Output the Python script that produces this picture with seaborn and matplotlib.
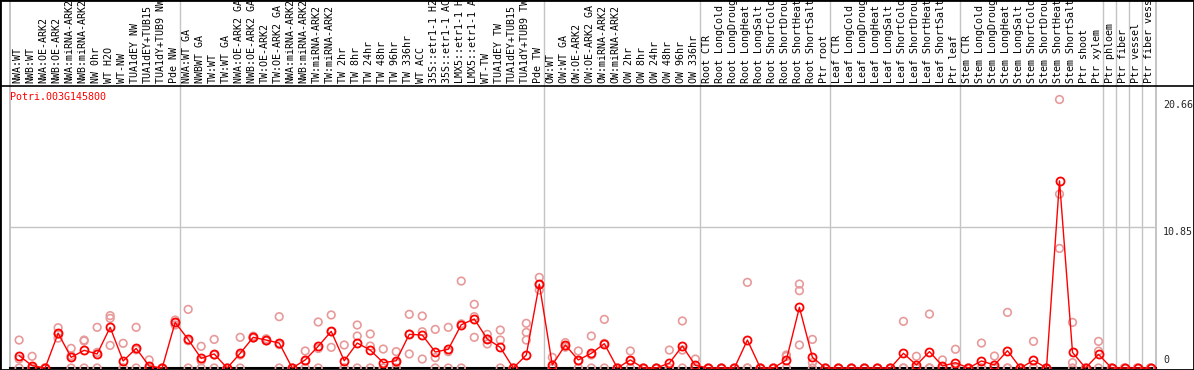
import numpy as np
import matplotlib
matplotlib.use("Agg")
import matplotlib.pyplot as plt
import matplotlib.transforms as mtransforms
from matplotlib.lines import Line2D
from matplotlib.patches import Rectangle
import seaborn as sns

# ---------------- data ----------------
labels = [
    "NWA:WT", "NWB:WT", "NWA:OE-ARK2", "NWB:OE-ARK2", "NWA:miRNA-ARK2", "NWB:miRNA-ARK2",
    "NW 0hr", "WT H2O", "WT-NW", "TUA1dEY NW", "TUA1dEY+TUB15", "TUA1dY+TUB9 NW", "Pde NW",
    "NWA:WT GA", "NWBWT GA", "TW:WT", "TW:WT GA", "NWA:OE-ARK2 GA", "NWB:OE-ARK2 GA",
    "TW:OE-ARK2", "TW:OE-ARK2 GA", "NWA:miRNA-ARK2", "NWB:miRNA-ARK2", "TW:miRNA-ARK2",
    "TW:miRNA-ARK2", "TW 2hr", "TW 8hr", "TW 24hr", "TW 48hr", "TW 96hr", "TW 336hr",
    "WT ACC", "35S::etr1-1 H2", "35S::etr1-1 AC", "LMX5::etr1-1 H", "LMX5::etr1-1 A",
    "WT-TW", "TUA1dEY TW", "TUA1dEY+TUB15", "TUA1dY+TUB9 TW", "Pde TW",
    "OW:WT", "OW:WT GA", "OW:OE-ARK2", "OW:OE-ARK2 GA", "OW:miRNA-ARK2", "OW:miRNA-ARK2",
    "OW 2hr", "OW 8hr", "OW 24hr", "OW 48hr", "OW 96hr", "OW 336hr",
    "Root CTR", "Root LongCold", "Root LongDroug", "Root LongHeat", "Root LongSalt",
    "Root ShortCold", "Root ShortDrou", "Root ShortHeat", "Root ShortSalt", "Ptr root",
    "Leaf CTR", "Leaf LongCold", "Leaf LongDroug", "Leaf LongHeat", "Leaf LongSalt",
    "Leaf ShortCold", "Leaf ShortDrou", "Leaf ShortHeat", "Leaf ShortSalt", "Ptr leaf",
    "Stem CTR", "Stem LongCold", "Stem LongDroug", "Stem LongHeat", "Stem LongSalt",
    "Stem ShortCold", "Stem ShortDrou", "Stem ShortHeat", "Stem ShortSalt", "Ptr shoot",
    "Ptr xylem", "Ptr phloem", "Ptr fiber", "Ptr vessel", "Ptr fiber vess",
]

mean_expr = [
    0.95, 0.18, 0.0, 2.67, 0.82, 1.36, 1.08, 3.13, 0.54, 1.51, 0.15, 0.0, 3.51,
    2.2, 0.74, 1.08, 0.0, 1.13, 2.36, 2.15, 1.92, 0.0, 0.62, 1.67, 2.82, 0.56, 1.92,
    1.38, 0.41, 0.56, 2.59, 2.54, 1.23, 1.44, 3.33, 3.77, 2.23, 1.59, 0.0, 1.0, 6.46,
    0.23, 1.77, 0.62, 1.13, 1.87, 0.0, 0.62, 0.0, 0.0, 0.38, 1.69, 0.2,
    0.0, 0.0, 0.0, 2.15, 0.0, 0.0, 0.62, 4.67, 0.82, 0.0,
    0.0, 0.0, 0.0, 0.0, 0.0, 1.13, 0.23, 1.26, 0.15, 0.41,
    0.0, 0.54, 0.23, 1.33, 0.0, 0.59, 0.0, 14.4, 1.2, 0.0, 1.05,
    0.0, 0.0, 0.0, 0.0,
]

rep_a = [
    2.15, 0.9, 0.0, 3.1, 1.51, 2.15, 3.13, 4.03, 1.9, 3.13, 0.62, 0.0, 3.69,
    4.51, 1.67, 2.2, 0.0, 2.36, 2.45, 2.25, 3.95, 0.0, 1.31, 3.54, 4.08, 1.77, 3.31,
    2.62, 1.46, 1.26, 4.13, 4.0, 2.97, 3.13, 6.69, 4.9, 2.59, 2.92, 0.0, 3.44, 6.97,
    0.82, 1.95, 1.31, 2.46, 3.74, 0.0, 1.31, 0.0, 0.0, 1.38, 3.62, 0.69,
    0.0, 0.0, 0.0, 6.59, 0.0, 0.0, 1.0, 6.46, 2.2, 0.0,
    0.0, 0.0, 0.0, 0.0, 0.0, 3.59, 0.9, 4.15, 0.62, 1.44,
    0.0, 1.92, 0.92, 4.28, 0.0, 2.05, 0.0, 20.66, 3.51, 0.0, 2.05,
    0.0, 0.0, 0.0, 0.0,
]

rep_b = [
    0.7, 0.0, 0.0, 2.3, 0.95, 2.08, 1.2, 3.82, 0.0, 1.4, 0.0, 0.0, 3.31,
    2.1, 0.55, 1.0, 0.0, 1.0, 2.3, 2.1, 1.8, 0.0, 0.55, 1.5, 2.8, 0.0, 2.46,
    1.69, 0.0, 0.4, 2.6, 2.79, 0.8, 1.26, 3.4, 3.95, 1.85, 2.15, 0.0, 2.74, 6.0,
    0.0, 1.7, 0.55, 1.0, 1.9, 0.0, 0.55, 0.0, 0.0, 0.0, 1.38, 0.0,
    0.0, 0.0, 0.0, 0.0, 0.0, 0.0, 0.9, 5.95, 0.41, 0.0,
    0.0, 0.0, 0.0, 0.0, 0.0, 0.0, 0.0, 0.0, 0.0, 0.0,
    0.0, 0.0, 0.0, 0.0, 0.0, 0.0, 0.0, 13.38, 0.41, 0.0, 1.3,
    0.0, 0.0, 0.0, 0.0,
]

rep_c = [
    0.0, 0.0, 0.0, 2.6, 0.0, 0.0, 0.0, 1.74, 0.0, 0.0, 0.0, 0.0, 3.5,
    0.0, 0.0, 0.0, 0.0, 0.0, 2.33, 2.1, 0.0, 0.0, 0.0, 0.0, 1.59, 0.0, 0.0,
    0.0, 0.0, 0.0, 1.08, 0.69, 0.0, 0.0, 0.0, 2.36, 2.23, 0.0, 0.0, 2.15, 6.4,
    0.0, 1.6, 0.0, 0.0, 0.0, 0.0, 0.0, 0.0, 0.0, 0.0, 0.0, 0.0,
    0.0, 0.0, 0.0, 0.0, 0.0, 0.0, 0.0, 1.77, 0.0, 0.0,
    0.0, 0.0, 0.0, 0.0, 0.0, 0.0, 0.0, 0.0, 0.0, 0.0,
    0.0, 0.0, 0.0, 0.0, 0.0, 0.0, 0.0, 9.2, 0.0, 0.0, 0.0,
    0.0, 0.0, 0.0, 0.0,
]

group_ends = [12, 40, 52, 62, 72, 83, 84, 85, 86]   # last column of each group
gene_id = "Potri.003G145800"
y_ticks = [10.85]
max_label = "20.66"
mid_label = "10.85"

# ---------------- figure ----------------
sns.set_style("white")
plt.rcParams["font.family"] = ["DejaVu Sans Mono", "DejaVu Sans"]

W, H = 1194, 370
fig = plt.figure(figsize=(W / 100, H / 100), dpi=100)
ax_left, ax_right, ax_bot, ax_top = 10, 1156, 368, 86   # pixel coords (y from top)
ax = fig.add_axes([ax_left / W, (H - ax_bot) / H, (ax_right - ax_left) / W, (ax_bot - ax_top) / H])

n = len(labels)
pos = np.arange(n)
grid_c = "#c4c4c4"
pale = "#e89a9a"
fs = 7.2

ax.set_xlim(-0.7, 87.42)
ax.set_ylim(0, 21.7)

# grid lines
top_ext = ax_bot / (ax_bot - ax_top)
for k in group_ends:
    ax.axvline(k + 0.38, ymin=0, ymax=top_ext, color=grid_c, lw=1.0, clip_on=False, zorder=1)
ax.axvline(-0.7, ymin=0, ymax=top_ext, color=grid_c, lw=1.4, clip_on=False, zorder=1)
ax.axvline(87.42, ymin=0, ymax=top_ext, color=grid_c, lw=1.4, clip_on=False, zorder=1)
for t in y_ticks:
    ax.axhline(t, color=grid_c, lw=1.0, zorder=1)

# replicate points
for rep in (rep_a, rep_b, rep_c):
    sns.scatterplot(x=pos, y=rep, ax=ax, marker="o", s=30, facecolor="none",
                    edgecolor=pale, linewidth=1.2, zorder=3, clip_on=False, legend=False)

# mean line
sns.lineplot(x=pos, y=mean_expr, ax=ax, color="red", lw=1.0, marker="o", markersize=5.8,
             markerfacecolor="none", markeredgecolor="red", markeredgewidth=1.3,
             zorder=4, clip_on=False, legend=False)

for s in ("top", "left", "right"):
    ax.spines[s].set_visible(False)
ax.spines["bottom"].set_color("black")
ax.spines["bottom"].set_linewidth(1.5)
ax.set_xticks([])
ax.set_yticks([])
ax.set_xlabel("")
ax.set_ylabel("")

# column labels (rotated, above plot)
lab_tr = mtransforms.blended_transform_factory(ax.transData, ax.transAxes)
lab_y = (ax_bot - 83) / (ax_bot - ax_top)
for i, lab in enumerate(labels):
    ax.text(i - 0.12, lab_y, lab, rotation=90, ha="center", va="bottom",
            fontsize=fs, color="black", transform=lab_tr, clip_on=False)

# right-side value labels
rt = ax.get_yaxis_transform()
rx = (1163 - ax_left) / (ax_right - ax_left)
ax.text(rx, 20.66, max_label, transform=rt, ha="left", va="top", fontsize=fs, clip_on=False)
ax.text(rx, 10.85, mid_label, transform=rt, ha="left", va="top", fontsize=fs, clip_on=False)
ax.text(rx, 0.2, "0", transform=rt, ha="left", va="bottom", fontsize=fs, clip_on=False)

# gene id title
fig.text(10 / W, 1 - 97 / H, gene_id, color="red", fontsize=fs, ha="left", va="center")

# frame lines
yline = 1 - 85.5 / H
fig.add_artist(Line2D([0, 1], [yline, yline], transform=fig.transFigure, color="black", lw=1.2))
fig.add_artist(Rectangle((0, 0), 1, 1, transform=fig.transFigure, fill=False,
                         edgecolor="black", lw=2.0))

fig.savefig("out.png", dpi=100)
